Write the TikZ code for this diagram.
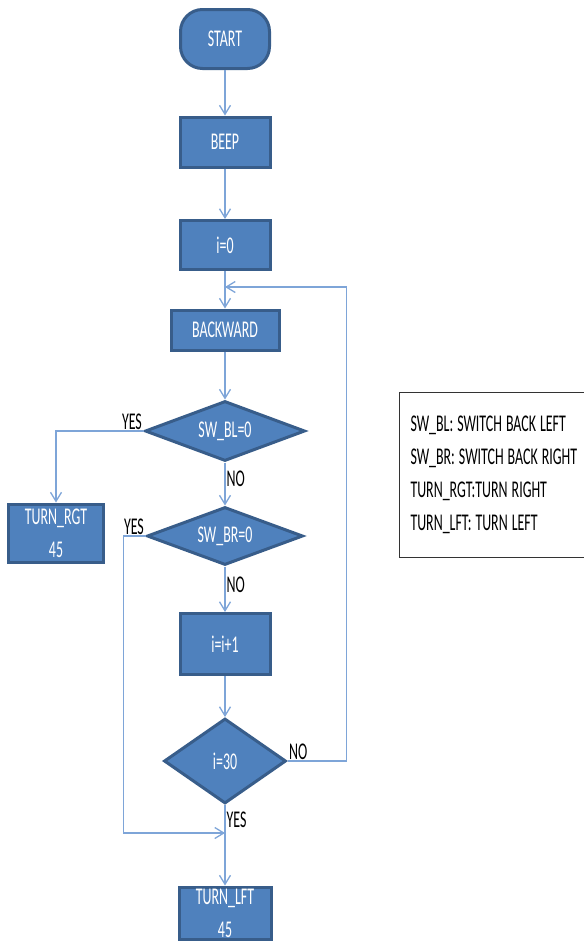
\documentclass[tikz,border=0pt]{standalone}
\usepackage{fontspec}
\setmainfont[FakeStretch=0.58]{Carlito}
\usetikzlibrary{shapes.geometric,arrows.meta}
\definecolor{boxfill}{HTML}{4F81BD}
\definecolor{boxline}{HTML}{385D8A}
\definecolor{flowline}{HTML}{7EA5D8}
\newcommand\keyfont{\fontsize{24}{33}\selectfont\spaceskip=4pt\relax}
\tikzset{
  box/.style={rectangle,fill=boxfill,draw=boxline,line width=3pt,text=white,
    font=\fontsize{24}{28}\selectfont,minimum width=90pt},
  term/.style={box,rounded corners=22pt},
  cond/.style={diamond,fill=boxfill,draw=boxline,line width=3pt,text=white,
    font=\fontsize{24}{28}\selectfont,inner sep=0pt},
  flow/.style={draw=flowline,line width=1.3pt,-{Straight Barb[length=9pt,width=11pt]}},
  lbl/.style={font=\fontsize{24}{28}\selectfont,inner sep=1pt}
}
\begin{document}
\begin{tikzpicture}[x=1pt,y=-1pt]
\useasboundingbox (0,0) rectangle (584,943);
\node[term,minimum width=89pt,minimum height=59pt] (start) at (225,39) {START};
\node[box,minimum height=50pt] (beep) at (225,142) {BEEP};
\node[box,minimum height=49pt] (init) at (225,245) {i=0};
\node[box,minimum width=108pt,minimum height=40pt] (back) at (225,330) {BACKWARD};
\node[cond,aspect=2.6,minimum width=160pt,minimum height=60pt] (swbl) at (225,431) {SW\_BL=0};
\node[box,minimum width=95pt,minimum height=58pt,inner ysep=0pt,align=center] (trgt) at (56,533) {TURN\_RGT\\[5pt]45};
\node[cond,aspect=2.6,minimum width=156pt,minimum height=58pt] (swbr) at (225,536) {SW\_BR=0};
\node[box,minimum height=61pt] (inc) at (225,644) {i=i+1};
\node[cond,aspect=1.4,minimum width=122pt,minimum height=85pt] (done) at (225,761) {i=30};
\node[box,minimum width=92pt,minimum height=52pt,inner ysep=0pt,align=center] (tlft) at (225,913) {TURN\_LFT\\[5pt]45};
\node[draw=black!80,line width=1pt,anchor=north west,text width=200pt,inner xsep=11pt,
  minimum height=165pt,align=flush left,font=\keyfont] (key) at (399,392)
  {SW\_BL: SWITCH BACK LEFT\\SW\_BR: SWITCH BACK RIGHT\\TURN\_RGT:TURN RIGHT\\TURN\_LFT: TURN LEFT};
\coordinate (loop) at (225,287);
\coordinate (join) at (225,833);
\draw[flow] (start) -- (beep);
\draw[flow] (beep) -- (init);
\draw[flow] (init) -- (back);
\draw[flow] (back) -- (swbl);
\draw[flow] (swbl.west) node[lbl,above left] (yesbl) {YES} -| (trgt.north);
\draw[flow] (swbl.south) -- node[lbl,pos=0.38,right] (nobl) {NO} (swbr.north);
\draw[flow] (swbr.west) node[lbl,above left] (yesbr) {YES} -- ++(-22,0) |- (join);
\draw[flow] (swbr.south) -- node[lbl,pos=0.4,right] (nobr) {NO} (inc.north);
\draw[flow] (inc) -- (done);
\draw[flow] (done.east) node[lbl,above right] (nodone) {NO} -- ++(59,0) |- (loop);
\draw[flow] (done.south) -- node[lbl,pos=0.18,right] (yesdone) {YES} (tlft.north);
\end{tikzpicture}
\end{document}
